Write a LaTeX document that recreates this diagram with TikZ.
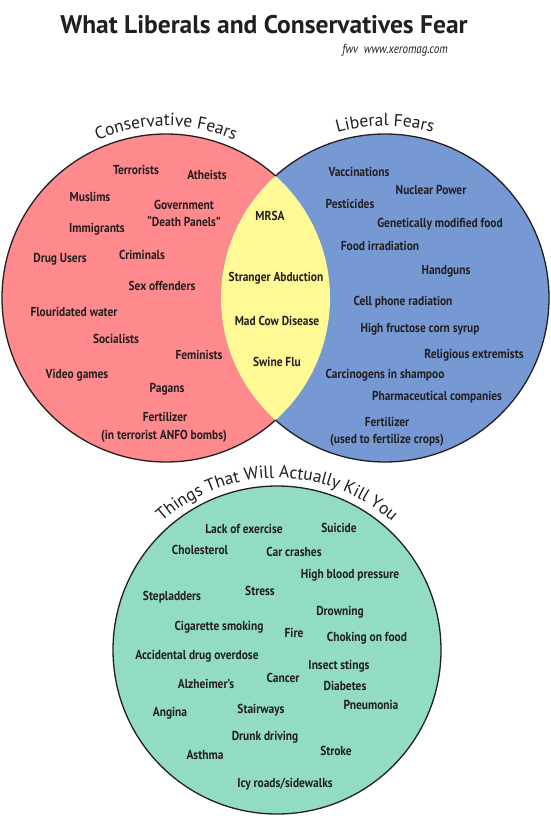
\documentclass[tikz,border=0pt]{standalone}
\usepackage{fontspec}
\usetikzlibrary{decorations.text}
\newfontfamily\itemfont[FakeStretch=0.88]{PT Sans}
\newfontfamily\labfont{PT Sans}
\newfontfamily\noteface[FakeStretch=0.85]{PT Sans}
\definecolor{ink}{HTML}{231F20}
\definecolor{redc}{HTML}{FF8A8E}
\definecolor{bluec}{HTML}{7699D4}
\definecolor{yelc}{HTML}{FFFA96}
\definecolor{greenc}{HTML}{92DCC2}
\newcommand\curvfont{\labfont\fontsize{17.5}{20}\selectfont}
\begin{document}
\begin{tikzpicture}[x=1pt,y=1pt,
  itm/.style={font=\itemfont\bfseries\fontsize{13}{15}\selectfont, text=ink, anchor=base, inner sep=0pt, yshift=-5pt},
  outline/.style={draw=ink, line width=1.3pt},
  curv/.style={decorate, decoration={text along path, text align=center, text color=ink}}]
\useasboundingbox (0,0) rectangle (550,-819);
\fill[white] (0,0) rectangle (550,-819);

% title
\node[font=\labfont\bfseries\fontsize{25.5}{28}\selectfont, text=ink, anchor=base, inner sep=0pt] (title) at (264,-33) {What Liberals and Conservatives Fear};
\node[font=\noteface\itshape\fontsize{13}{15}\selectfont, text=ink, anchor=base, inner sep=0pt] (credit) at (395,-53) {fwv\ \ www.xeromag.com};

% Venn circles
\fill[redc] (166,-298) circle (164);
\fill[bluec] (385,-298) circle (164);
\begin{scope}
  \clip (166,-298) circle (164);
  \fill[yelc] (385,-298) circle (164);
\end{scope}
\draw[outline] (166,-298) ++(48.1:164) arc[start angle=48.1, end angle=311.9, radius=164];
\draw[outline] (385,-298) ++(131.9:164) arc[start angle=131.9, end angle=-131.9, radius=164];
\filldraw[fill=greenc, outline] (277,-650) circle (164);

% curved labels
\path[curv, decoration={text={|\curvfont|Conservative Fears}}] (166,-298) ++(150:172) arc[start angle=150, end angle=30, radius=172];
\path[curv, decoration={text={|\curvfont|Liberal Fears}}] (385,-298) ++(150:172) arc[start angle=150, end angle=30, radius=172];
\path[curv, decoration={text={|\curvfont|Things That Will Actually Kill You}}] (277,-650) ++(170:172) arc[start angle=170, end angle=10, radius=172];

% conservative fears
\node[itm] (c1) at (136,-169) {Terrorists};
\node[itm] (c2) at (207,-174) {Atheists};
\node[itm] (c3) at (90,-196) {Muslims};
\node[itm] (c4) at (184,-204) {Government};
\node[itm] (c5) at (184,-221) {“Death Panels”};
\node[itm] (c6) at (97,-227) {Immigrants};
\node[itm] (c7) at (60,-257) {Drug Users};
\node[itm] (c8) at (142,-254) {Criminals};
\node[itm] (c9) at (162,-285) {Sex offenders};
\node[itm] (c10) at (74,-311) {Flouridated water};
\node[itm] (c11) at (116,-338) {Socialists};
\node[itm] (c12) at (199,-354) {Feminists};
\node[itm] (c13) at (77,-373) {Video games};
\node[itm] (c14) at (167,-387) {Pagans};
\node[itm] (c15) at (165,-416) {Fertilizer};
\node[itm] (c16) at (164,-434) {(in terrorist ANFO bombs)};

% shared
\node[itm] (m1) at (270,-215) {MRSA};
\node[itm] (m2) at (276,-276) {Stranger Abduction};
\node[itm] (m3) at (277,-320) {Mad Cow Disease};
\node[itm] (m4) at (277,-361) {Swine Flu};

% liberal fears
\node[itm] (l1) at (359,-171) {Vaccinations};
\node[itm] (l2) at (431,-189) {Nuclear Power};
\node[itm] (l3) at (350,-203) {Pesticides};
\node[itm] (l4) at (440,-222) {Genetically modified food};
\node[itm] (l5) at (380,-245) {Food irradiation};
\node[itm] (l6) at (446,-269) {Handguns};
\node[itm] (l7) at (403,-300) {Cell phone radiation};
\node[itm] (l8) at (420,-327) {High fructose corn syrup};
\node[itm] (l9) at (474,-353) {Religious extremists};
\node[itm] (l10) at (385,-373) {Carcinogens in shampoo};
\node[itm] (l11) at (437,-395) {Pharmaceutical companies};
\node[itm] (l12) at (387,-421) {Fertilizer};
\node[itm] (l13) at (387,-438) {(used to fertilize crops)};

% things that will actually kill you
\node[itm] (k1) at (244,-528) {Lack of exercise};
\node[itm] (k2) at (339,-527) {Suicide};
\node[itm] (k3) at (200,-549) {Cholesterol};
\node[itm] (k4) at (294,-551) {Car crashes};
\node[itm] (k5) at (350,-573) {High blood pressure};
\node[itm] (k6) at (172,-595) {Stepladders};
\node[itm] (k7) at (260,-590) {Stress};
\node[itm] (k8) at (340,-610) {Drowning};
\node[itm] (k9) at (219,-625) {Cigarette smoking};
\node[itm] (k10) at (294,-632) {Fire};
\node[itm] (k11) at (367,-636) {Choking on food};
\node[itm] (k12) at (197,-654) {Accidental drug overdose};
\node[itm] (k13) at (339,-664) {Insect stings};
\node[itm] (k14) at (283,-677) {Cancer};
\node[itm] (k15) at (206,-683) {Alzheimer’s};
\node[itm] (k16) at (345,-685) {Diabetes};
\node[itm] (k17) at (371,-704) {Pneumonia};
\node[itm] (k18) at (170,-711) {Angina};
\node[itm] (k19) at (261,-708) {Stairways};
\node[itm] (k20) at (265,-735) {Drunk driving};
\node[itm] (k21) at (336,-750) {Stroke};
\node[itm] (k22) at (205,-754) {Asthma};
\node[itm] (k23) at (285,-782) {Icy roads/sidewalks};
\end{tikzpicture}
\end{document}
